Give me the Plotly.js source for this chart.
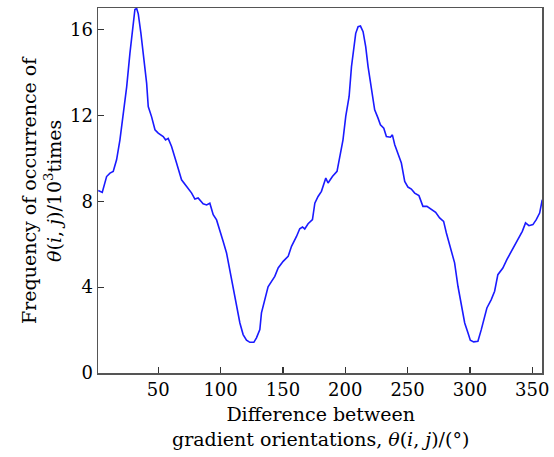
<!DOCTYPE html>
<html>
<head>
<meta charset="utf-8">
<script src="https://cdn.plot.ly/plotly-3.0.1.min.js"></script>
<style>html,body{margin:0;padding:0;background:#fff;}#chart{width:554px;height:457px;}</style>
</head>
<body>
<div id="chart"></div>
<script>
// Difference between gradient orientations (degrees)
const angleDeg = [1.9,5.1,8.6,11.3,13.9,16.6,19.3,22,24.7,27.3,29.2,31.3,32.7,34,36.1,38.8,40.7,42,44.7,47.4,50,54,55.9,58,60.7,64.7,68.7,72.8,76.8,79.4,82,
  86,88.8,91.4,94.1,96.8,99.4,102.1,104.8,107.5,110.1,112.8,115.5,118.1,120.8,123.5,126.7,128.8,131.5,132.8,135.5,138.1,140.9,143.5,146.2,150.2,154.2,156.9,160.9,163.5,165.7,167.5,170.2,
  173.7,175.6,178.2,180.9,184.4,186.2,189.7,193.4,196.1,198.2,200.4,203.1,205,206.8,208.4,210.3,212.2,214.3,216.4,218.3,221,223.6,226.3,228.2,230.9,233,236.2,237.8,239.7,242.3,
  245,247.7,250.3,253,255.7,259.1,262.3,265.5,269.1,272.5,275.7,278.9,281.1,284.3,287.7,290.4,293.1,295.8,298.4,300.3,303,306.4,309.1,311.8,313.6,317.1,319.8,322.4,326.4,329.6,333.2,335.8,339.3,342,344.6,347.3,350.5,353.2,355.9,358];
// Frequency of occurrence (10^3 times)
const frequency = [8.5,8.41,9.15,9.31,9.39,9.93,10.86,12.1,13.33,14.89,16.03,16.93,16.98,16.73,15.83,14.58,13.5,12.41,11.93,11.33,11.17,11.01,10.86,10.93,10.55,9.78,9.0,8.69,8.38,8.1,8.15,
  7.88,7.83,7.91,7.37,7.13,6.67,6.13,5.59,4.81,4.04,3.11,2.33,1.79,1.53,1.43,1.43,1.64,2.02,2.8,3.42,4.01,4.27,4.5,4.89,5.2,5.43,5.9,6.36,6.72,6.8,6.71,6.95,
  7.14,7.91,8.22,8.46,9.08,8.85,9.15,9.39,10.16,10.86,11.95,12.88,14.27,15.05,15.82,16.13,16.16,15.9,15.2,14.27,13.34,12.26,11.87,11.56,11.4,11.01,10.98,11.09,10.63,10.24,
  9.78,8.92,8.66,8.57,8.38,8.26,7.76,7.76,7.6,7.48,7.22,7.06,6.52,5.9,5.13,4.04,3.11,2.33,1.87,1.53,1.45,1.48,2.02,2.72,3.03,3.42,3.81,4.58,4.89,5.28,5.67,5.9,6.29,6.6,6.99,6.86,6.91,7.14,7.45,8.07];
const xTicks = [50,100,150,200,250,300,350];
const yTicks = [0,4,8,12,16];

const font = {family: 'DejaVu Serif', size: 19, color: '#000'};
const tickFont = {family: 'DejaVu Serif', size: 18, color: '#000'};

const trace = {
  x: angleDeg, y: frequency, type: 'scatter', mode: 'lines',
  line: {color: '#1a1aff', width: 1.6}, hoverinfo: 'skip'
};

const axisCommon = {
  showgrid: false, zeroline: false, showline: true, mirror: true,
  linecolor: '#555', linewidth: 1.5, ticks: 'inside', ticklen: 6,
  tickcolor: '#333', tickwidth: 1.2, tickfont: tickFont
};

const layout = {
  width: 554, height: 457,
  margin: {l: 98, r: 12, t: 8, b: 84},
  paper_bgcolor: '#fff', plot_bgcolor: '#fff',
  showlegend: false, font: font,
  xaxis: Object.assign({}, axisCommon, {range: [1.7, 357.8], tickvals: xTicks, ticktext: xTicks.map(String)}),
  yaxis: Object.assign({}, axisCommon, {range: [0, 17], tickvals: yTicks, ticktext: yTicks.map(String)}),
  annotations: [
    {text: 'Difference between<br>gradient orientations, <i>θ</i>(<i>i</i>, <i>j</i>)/(°)',
     xref: 'paper', yref: 'paper', x: 0.5, y: 0, xanchor: 'center', yanchor: 'top',
     yshift: -28, showarrow: false, font: font},
    {text: 'Frequency of occurrence of<br><i>θ</i>(<i>i</i>, <i>j</i>)/10<sup>3</sup>times',
     xref: 'paper', yref: 'paper', x: 0, y: 0.5, xanchor: 'right', yanchor: 'middle',
     xshift: -31, textangle: -90, showarrow: false, font: font}
  ]
};

Plotly.newPlot('chart', [trace], layout, {staticPlot: true, displayModeBar: false});
</script>
</body>
</html>
